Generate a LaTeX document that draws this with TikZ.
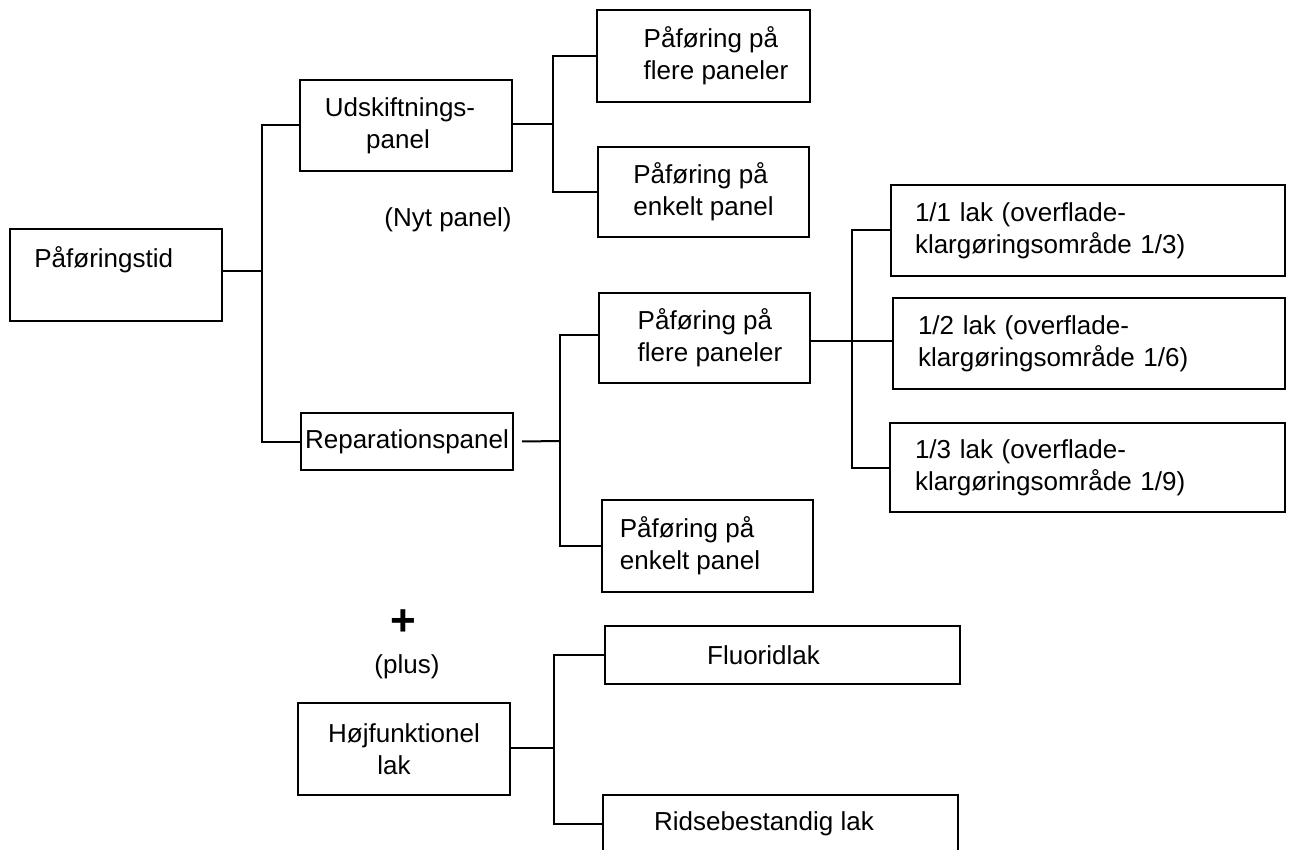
\documentclass[tikz,border=0pt]{standalone}
\usepackage{fontspec}
\setmainfont{Liberation Sans}
\begin{document}
\begin{tikzpicture}[x=0.5pt,y=-0.5pt,
  box/.style={draw, line width=1pt, inner sep=0pt, align=center, font=\fontsize{13}{16}\selectfont},
  conn/.style={line width=1pt},
  thinconn/.style={line width=0.6pt},
  lbl/.style={font=\fontsize{13}{16}\selectfont, inner sep=0pt}]
\useasboundingbox (0,0) rectangle (1290,850);
% level 0
\node[box, minimum width=106pt, minimum height=46pt,
  label={[lbl, anchor=north west, xshift=12.5pt, yshift=-9pt]north west:Påføringstid}] (pt) at (116,275) {};
% level 1
\node[box, minimum width=106pt, minimum height=45.5pt] (ud) at (406,125.5) {Udskiftnings-\hspace*{6pt}\\panel\hspace*{8pt}};
\node[box, minimum width=106pt, minimum height=28.5pt] (rep) at (407,441.5) {Reparationspanel};
\node[box, minimum width=106pt, minimum height=46pt] (hf) at (404,749) {Højfunktionel\\lak\hspace*{10pt}};
% level 2
\node[box, align=left, minimum width=106.5pt, minimum height=46pt] (pf1) at (703.5,56) {\hspace*{12.5pt}Påføring på\\\hspace*{12.5pt}flere paneler};
\node[box, align=left, minimum width=105.5pt, minimum height=45pt] (pe1) at (703.5,192) {Påføring på\\enkelt panel};
\node[box, align=left, minimum width=105.5pt, minimum height=45pt] (pf2) at (704.5,338) {\hspace*{5.5pt}Påføring på\\\hspace*{5.5pt}flere paneler};
\node[box, align=left, minimum width=105.5pt, minimum height=46pt] (pe2) at (707.5,546) {Påføring på\\enkelt panel\hspace*{17.5pt}};
\node[box, minimum width=177.5pt, minimum height=29pt] (fl) at (782.5,655) {Fluoridlak\hspace*{19pt}};
\node[box, minimum width=177.5pt, minimum height=29pt] (rb) at (780.5,824) {Ridsebestandig lak\hspace*{16.5pt}};
% level 3
\node[box, minimum width=197pt, minimum height=45.5pt, text width=173pt, align=left] (l1) at (1088,230.5) {1/1 lak (overflade-\\klargøringsområde 1/3)};
\node[box, minimum width=196pt, minimum height=45.5pt, text width=171pt, align=left] (l2) at (1089,343.5) {1/2 lak (overflade-\\klargøringsområde 1/6)};
\node[box, minimum width=197.5pt, minimum height=44.5pt, text width=172.5pt, align=left] (l3) at (1087.5,467.5) {1/3 lak (overflade-\\klargøringsområde 1/9)};
% free texts
\node[lbl] (nyt) at (448,220) {(Nyt panel)};
\node[font=\fontsize{22}{22}\selectfont\bfseries, inner sep=0pt] (plus) at (403,623) {+};
\node[lbl] (plustxt) at (407,667) {(plus)};
% trunk coordinates
\coordinate (t1) at (262,271);
\coordinate (t2) at (553,124);
\coordinate (t3) at (560,441);
\coordinate (t4) at (852,341);
\coordinate (t5) at (554,748);
% connectors
\draw[conn] (pt.east |- t1) -- (t1);
\draw[conn] (ud.west) -| (t1) |- (rep.west);
\draw[thinconn] (ud.east |- t2) -- (t2);
\draw[conn] (pf1.west) -| (t2) |- (pe1.west);
\draw[conn] ([xshift=4pt]rep.east) -- (t3);
\draw[conn] ([yshift=1.5pt]pf2.west) -| (t3) |- (pe2.west);
\draw[conn] (pf2.east |- t4) -- (t4);
\draw[conn] (l1.west) -| (t4) |- (l3.west);
\draw[thinconn] (t4) -- (l2.west |- t4);
\draw[conn] (hf.east |- t5) -- (t5);
\draw[thinconn] (fl.west) -| (t5) |- (rb.west);
\end{tikzpicture}
\end{document}
